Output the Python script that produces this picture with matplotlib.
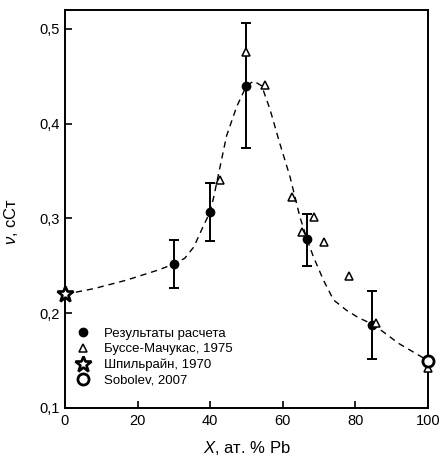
import matplotlib
matplotlib.use('Agg')
import matplotlib.pyplot as plt
from matplotlib.lines import Line2D
from matplotlib.ticker import FuncFormatter

plt.rcParams['font.family'] = ['Liberation Sans', 'DejaVu Sans']
plt.rcParams['mathtext.fontset'] = 'custom'
plt.rcParams['mathtext.it'] = 'Liberation Sans:italic'
plt.rcParams['mathtext.rm'] = 'Liberation Sans'

# calculated results with error bars
calc_x = [30, 40, 50, 66.7, 84.7]
calc_y = [0.252, 0.307, 0.440, 0.278, 0.188]
calc_err_lo = [0.025, 0.031, 0.066, 0.028, 0.036]
calc_err_hi = [0.025, 0.030, 0.066, 0.027, 0.035]

# Busse-Machukas, 1975
busse_x = [42.7, 50, 55.1, 62.5, 65.3, 68.6, 71.3, 78.2, 85.7, 100]
busse_y = [0.341, 0.476, 0.441, 0.323, 0.286, 0.302, 0.275, 0.239, 0.190, 0.142]

# Shpilrain, 1970
shp_x = [0]
shp_y = [0.220]

# Sobolev, 2007
sob_x = [100]
sob_y = [0.150]

# dashed guide curve
curve_x = [0, 8, 17, 26, 30, 33, 35.5, 38, 40, 41, 44.5, 47.3, 50, 52, 54.2,
           56.5, 59.2, 62, 64.7, 66.7, 68.4, 71.2, 74, 77.6, 81, 85, 92, 100]
curve_y = [0.220, 0.226, 0.235, 0.246, 0.252, 0.258, 0.270, 0.291, 0.307, 0.323,
           0.387, 0.418, 0.440, 0.445, 0.440, 0.415, 0.379, 0.344, 0.302, 0.278,
           0.260, 0.235, 0.214, 0.203, 0.195, 0.188, 0.168, 0.150]

labels = ['Результаты расчета', 'Буссе-Мачукас, 1975', 'Шпильрайн, 1970', 'Sobolev, 2007']

fig = plt.figure(figsize=(4.43, 4.62), dpi=100)
ax = fig.add_axes([0.1467, 0.1169, 0.8193, 0.8614])

ax.plot(curve_x, curve_y, color='black', linestyle=(0, (4.5, 3.5)), linewidth=1.0, zorder=1)

ax.errorbar(calc_x, calc_y, yerr=[calc_err_lo, calc_err_hi], fmt='o', color='black',
            markersize=6, elinewidth=1.4, capsize=3.5, capthick=1.4, zorder=3)
tri, = ax.plot(busse_x, busse_y, linestyle='none', marker='^', markersize=6,
               markerfacecolor='white', markeredgecolor='black', markeredgewidth=1.1,
               clip_on=False, zorder=4)
star, = ax.plot(shp_x, shp_y, linestyle='none', marker='*', markersize=12,
                markerfacecolor='white', markeredgecolor='black', markeredgewidth=1.9,
                clip_on=False, zorder=5)
circ, = ax.plot(sob_x, sob_y, linestyle='none', marker='o', markersize=8,
                markerfacecolor='white', markeredgecolor='black', markeredgewidth=2.0,
                clip_on=False, zorder=5)

ax.set_xlim(0, 100)
ax.set_ylim(0.1, 0.52)
ax.set_xticks([0, 20, 40, 60, 80, 100])
ax.set_yticks([0.1, 0.2, 0.3, 0.4, 0.5])
ax.yaxis.set_major_formatter(FuncFormatter(lambda v, p: f'{v:.1f}'.replace('.', ',')))
ax.tick_params(direction='in', length=5, width=1.2, labelsize=10.5, pad=4)
for s in ax.spines.values():
    s.set_linewidth(1.4)

ax.set_xlabel('$X$, ат. % Pb', fontsize=12, labelpad=8)
ax.set_ylabel('$\\nu$, сСт', fontsize=12)
ax.yaxis.set_label_coords(-0.125, 0.47)

dot = Line2D([], [], linestyle='none', marker='o', markersize=6, color='black')
ax.legend([dot, tri, star, circ], labels,
          loc='lower left', bbox_to_anchor=(0.012, 0.04), frameon=False,
          fontsize=9.5, handlelength=1.2, handletextpad=1.0,
          labelspacing=0.25, borderaxespad=0)

fig.savefig('out.png', dpi=100)
